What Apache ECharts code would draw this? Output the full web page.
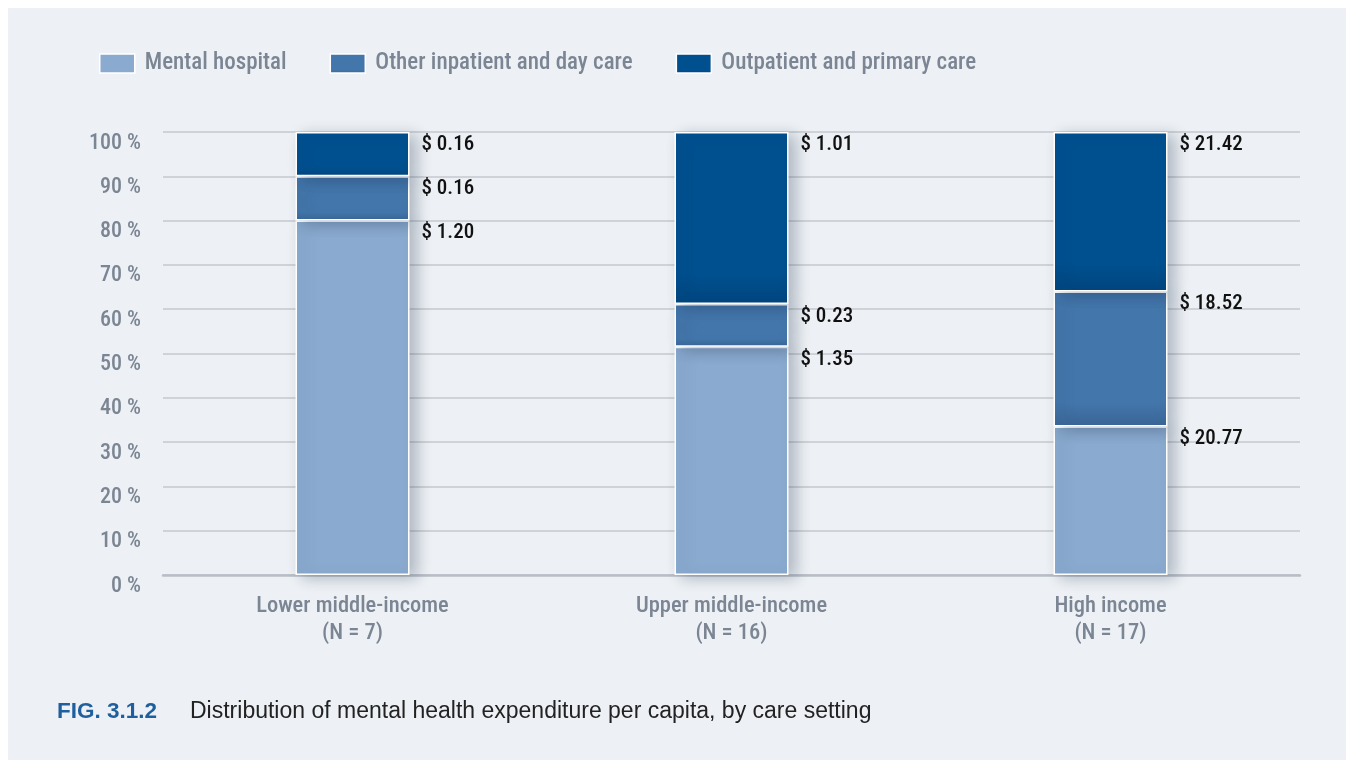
<!DOCTYPE html>
<html>
<head>
<meta charset="utf-8">
<style>
  html, body { margin: 0; padding: 0; background: #ffffff; }
  #chart { width: 1346px; height: 760px; }
</style>
<script src="https://cdn.jsdelivr.net/npm/echarts@6/dist/echarts.min.js"></script>
</head>
<body>
<div id="chart"></div>
<script>
// Income groups on the x axis
const categories = ['Lower middle-income\n(N = 7)', 'Upper middle-income\n(N = 16)', 'High income\n(N = 17)'];
const seriesNames = ['Mental hospital', 'Other inpatient and day care', 'Outpatient and primary care'];

// Share of spending per care setting (% of total)
const mentalHospitalShare = [80, 51.5, 33.5];
const otherInpatientShare = [10, 9.7, 30.5];
const outpatientShare = [10, 38.8, 36.0];

// Spending per capita (US$) printed beside each segment
const mentalHospitalUsd = ['1.20', '1.35', '20.77'];
const otherInpatientUsd = ['0.16', '0.23', '18.52'];
const outpatientUsd = ['0.16', '1.01', '21.42'];

const yTicks = [0, 10, 20, 30, 40, 50, 60, 70, 80, 90, 100];

const FONT = '"Roboto Condensed", "Liberation Sans Narrow", "DejaVu Sans Condensed", sans-serif';
const GRAY = '#7b8593';

function shade(top, bottom) {
  return new echarts.graphic.LinearGradient(0, 0, 0, 1, [
    { offset: 0, color: top },
    { offset: 0.82, color: top },
    { offset: 1, color: bottom }
  ]);
}

function makeSeries(name, values, usd, color) {
  return {
    name: name,
    type: 'bar',
    stack: 'share',
    barWidth: 114,
    data: values,
    itemStyle: {
      color: color,
      borderColor: '#ffffff',
      borderWidth: 1.5,
      shadowColor: 'rgba(20, 40, 70, 0.28)',
      shadowBlur: 14,
      shadowOffsetX: 7,
      shadowOffsetY: 3
    },
    label: {
      show: true,
      position: [126, 2],
      align: 'left',
      verticalAlign: 'top',
      fontFamily: FONT,
      fontSize: 21,
      fontWeight: 500,
      color: '#111111',
      formatter: p => '$ ' + usd[p.dataIndex]
    },
    emphasis: { disabled: true }
  };
}

const chart = echarts.init(document.getElementById('chart'), null, { renderer: 'canvas' });

chart.setOption({
  animation: false,
  backgroundColor: '#ffffff',
  graphic: [{
    type: 'rect',
    left: 8, top: 8,
    shape: { width: 1338, height: 752 },
    style: { fill: '#edf1f5' },
    z: -10
  }],
  title: [{
    text: 'FIG. 3.1.2',
    left: 57, top: 700, padding: 0,
    textStyle: { fontFamily: '"Liberation Sans", Arial, sans-serif', fontSize: 22.5, fontWeight: 'bold', color: '#1f5f9e' }
  }, {
    text: 'Distribution of mental health expenditure per capita, by care setting',
    left: 190, top: 700, padding: 0,
    textStyle: { fontFamily: '"Liberation Sans", Arial, sans-serif', fontSize: 23, fontWeight: 'normal', color: '#222222' }
  }],
  legend: {
    left: 99, top: 52, padding: 0,
    itemWidth: 35, itemHeight: 19,
    itemGap: 43,
    icon: 'rect',
    itemStyle: { shadowBlur: 0, shadowOffsetX: 0, shadowOffsetY: 0, borderColor: '#ffffff', borderWidth: 1.5 },
    textStyle: { fontFamily: FONT, fontSize: 23, fontWeight: 500, color: GRAY, padding: [0, 0, 0, 5] },
    data: seriesNames
  },
  grid: { left: 163, right: 46, top: 132, bottom: 185, containLabel: false },
  xAxis: {
    type: 'category',
    data: categories,
    axisLine: { lineStyle: { color: '#b9bec6', width: 2.5 } },
    axisTick: { show: false },
    axisLabel: {
      margin: 18,
      fontFamily: FONT, fontSize: 22.5, fontWeight: 500, color: GRAY,
      lineHeight: 27
    }
  },
  yAxis: {
    type: 'value',
    min: 0, max: 100, interval: 10,
    axisLine: { show: false },
    axisTick: { show: false },
    splitLine: { lineStyle: { color: '#c4c9cf', width: 1.5 } },
    axisLabel: {
      margin: 22,
      fontFamily: FONT, fontSize: 22, fontWeight: 500, color: GRAY,
      verticalAlign: 'top',
      formatter: v => (yTicks.includes(v) ? v + ' %' : '')
    }
  },
  series: [
    makeSeries(seriesNames[0], mentalHospitalShare, mentalHospitalUsd, '#8aabcf'),
    makeSeries(seriesNames[1], otherInpatientShare, otherInpatientUsd, shade('#4376ab', '#3a6697')),
    makeSeries(seriesNames[2], outpatientShare, outpatientUsd, shade('#00508f', '#004680'))
  ]
});
</script>
</body>
</html>
